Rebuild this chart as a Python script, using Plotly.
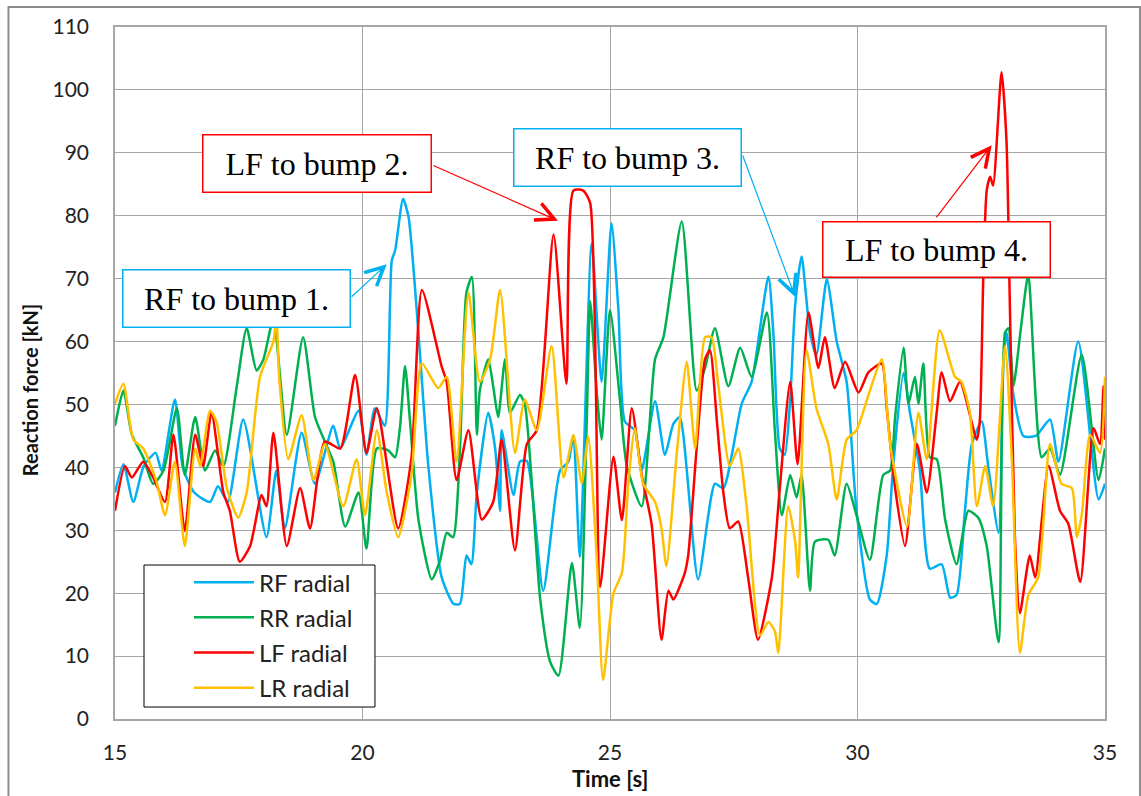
import plotly.graph_objects as go

# ---------------- data ----------------
rf_t = [15.0, 15.17, 15.37, 15.58, 15.82, 15.94, 16.21, 16.37, 16.6, 16.92, 17.08, 17.28, 17.59, 18.06, 18.26,
        18.43, 18.77, 19.04, 19.41, 19.55, 19.92, 20.08, 20.25, 20.45, 20.59, 20.66, 20.82, 20.93, 21.13, 21.33,
        21.6, 21.84, 21.97, 22.1, 22.2, 22.31, 22.54, 22.68, 22.78, 22.81, 23.05, 23.18, 23.32, 23.65, 23.99,
        24.16, 24.26, 24.39, 24.63, 24.83, 25.03, 25.17, 25.3, 25.5, 25.64, 25.91, 26.11, 26.28, 26.41, 26.78,
        27.12, 27.29, 27.66, 27.86, 28.2, 28.3, 28.43, 28.53, 28.64, 28.74, 28.87, 29.04, 29.17, 29.38, 29.58,
        29.78, 29.98, 30.25, 30.39, 30.59, 30.72, 30.93, 31.06, 31.26, 31.46, 31.7, 31.87, 32.0, 32.17, 32.31,
        32.51, 32.64, 32.85, 32.95, 33.01, 33.15, 33.35, 33.6, 33.89, 34.06, 34.46, 34.87, 35.0]
rf_v = [36, 40.5, 34.5, 40.2, 42.3, 39.5, 50.8, 40, 36, 34.5, 37, 34.5, 47.6, 28.9, 39.5,
        30.3, 45.5, 37.4, 46.6, 43, 49, 42, 49.4, 46.6, 72.8, 74.5, 82.7, 79.8, 61.4, 40.2,
        22.5, 18.3, 18.3, 26, 24.6, 36, 48.7, 43, 33.1, 45.9, 35.6, 40.9, 41, 20.4, 39.5,
        40.9, 45.1, 25.8, 75.6, 53.6, 78.8, 65, 47.3, 45.9, 39.5, 50.5, 42, 46.9, 48, 22.2,
        37.4, 36.7, 50.1, 53.6, 70.3, 61.4, 43, 42, 50.8, 65.7, 73.5, 61.4, 57.9, 69.9, 60,
        53.6, 33.1, 19, 18.3, 26, 40.2, 55, 48.7, 39.5, 23.9, 24.6, 19.3, 19.7, 33.1, 43.7,
        47.3, 40.2, 29.6, 57.2, 61.4, 51.5, 45, 45, 47.6, 40.9, 60, 34.9, 37.4]

rr_t = [15.0, 15.17, 15.34, 15.57, 15.77, 15.98, 16.25, 16.41, 16.62, 16.82, 17.02, 17.19, 17.46, 17.66, 17.86,
        18.0, 18.2, 18.47, 18.8, 19.04, 19.24, 19.41, 19.65, 19.92, 20.08, 20.29, 20.52, 20.66, 20.76, 20.86,
        20.96, 21.13, 21.4, 21.57, 21.7, 21.83, 21.97, 22.1, 22.21, 22.31, 22.37, 22.54, 22.64, 22.74, 22.88,
        22.98, 23.18, 23.28, 23.59, 23.79, 23.96, 24.23, 24.39, 24.53, 24.6, 24.73, 24.83, 25.0, 25.2, 25.34,
        25.64, 25.91, 26.08, 26.45, 26.75, 26.92, 27.12, 27.39, 27.63, 27.86, 28.17, 28.33, 28.47, 28.64, 28.77,
        28.87, 29.04, 29.14, 29.41, 29.54, 29.78, 29.98, 30.25, 30.52, 30.66, 30.76, 30.93, 31.03, 31.16, 31.23,
        31.33, 31.46, 31.6, 31.77, 32.0, 32.24, 32.44, 32.61, 32.85, 32.98, 33.05, 33.15, 33.3, 33.45, 33.72,
        33.89, 34.09, 34.53, 34.87, 35.0]
rr_v = [46.6, 52.2, 45.2, 41.6, 37.4, 39.5, 49.4, 38.8, 48, 39.5, 42.7, 40.2, 52.9, 62.1, 55.4,
        57.2, 63.6, 45.2, 60.7, 48, 44.1, 40.9, 30.6, 36, 27.1, 43, 42.7, 41.6, 46.6, 56.1,
        47.3, 31.7, 22.2, 25.3, 29.6, 28.9, 43, 67.8, 70.3, 45.2, 52.2, 57.2, 52.9, 48, 57.2,
        48.7, 51.5, 50, 19, 9.1, 6.9, 24.8, 14.5, 47.3, 66.4, 52.2, 44.4, 65, 50.8, 40.2,
        33.8, 57.2, 60.7, 79.1, 52.2, 55.8, 62.1, 52.9, 59, 54.4, 64.6, 45.9, 32.4, 38.8, 35.2,
        38.8, 20.4, 28.2, 28.5, 26, 37.4, 32.4, 25.3, 38.8, 39.5, 48, 59, 50.1, 54.4, 50.1,
        56.5, 41.6, 41.3, 31.7, 24.6, 33.1, 32, 27.5, 12.2, 61.4, 62.1, 52.9, 62.1, 70.6, 41.6,
        43, 38.8, 57.9, 38, 43]

lf_t = [15.0, 15.2, 15.34, 15.57, 15.77, 16.01, 16.18, 16.41, 16.62, 16.78, 16.95, 17.19, 17.32, 17.52, 17.73,
        17.96, 18.06, 18.2, 18.47, 18.74, 18.94, 19.24, 19.55, 19.85, 20.08, 20.29, 20.72, 20.99, 21.2, 21.6,
        21.7, 21.9, 22.14, 22.41, 22.64, 22.81, 23.08, 23.32, 23.52, 23.86, 24.12, 24.26, 24.46, 24.6, 24.8,
        25.07, 25.24, 25.44, 25.64, 25.84, 26.04, 26.18, 26.28, 26.51, 26.58, 26.75, 26.92, 27.02, 27.16, 27.29,
        27.42, 27.59, 27.79, 27.99, 28.27, 28.43, 28.64, 28.79, 29.01, 29.21, 29.34, 29.54, 29.75, 30.02, 30.22,
        30.49, 30.59, 30.76, 30.96, 31.2, 31.4, 31.6, 31.7, 31.87, 32.07, 32.41, 32.47, 32.54, 32.61, 32.68,
        32.74, 32.91, 33.01, 33.08, 33.18, 33.28, 33.48, 33.59, 33.86, 34.09, 34.26, 34.5, 34.77, 34.9, 34.97,
        35.0]
lf_v = [33.1, 40.2, 38.4, 40.9, 38.4, 34.5, 45.2, 29.9, 45.2, 40.2, 48.7, 36, 33.1, 25, 27.5,
        35.6, 33.8, 45.5, 27.5, 36.7, 30.3, 44.1, 43, 54.7, 42.3, 49.4, 30.3, 41.6, 68.2, 56,
        53.6, 38, 45.9, 31.7, 34.5, 44.4, 26.8, 43.7, 45.9, 77, 53.3, 84, 84, 82, 21,
        41.7, 31.6, 49.4, 38.8, 31, 12.6, 20.4, 19, 23.2, 26, 43, 57.2, 58.6, 47.3, 36,
        30.3, 31.4, 22.5, 12.6, 22.5, 36.7, 53.6, 40.5, 64.6, 55.8, 60.7, 52.6, 56.8, 51.9, 55.1,
        56.5, 49.4, 36.7, 27.5, 43.7, 36, 48.7, 55.1, 50.5, 53.6, 44.4, 47.3, 69.9, 84, 86.2,
        84.8, 102.8, 91.9, 65, 28.9, 16.8, 26, 22.5, 40.2, 33.1, 31, 21.8, 46.2, 43.7, 52.9,
        44.4]

lr_t = [15.0, 15.17, 15.37, 15.57, 15.84, 16.01, 16.21, 16.41, 16.62, 16.72, 16.92, 17.05, 17.26, 17.49, 17.66,
        17.93, 18.2, 18.26, 18.32, 18.5, 18.77, 19.01, 19.24, 19.61, 19.88, 20.05, 20.29, 20.49, 20.72, 20.99,
        21.2, 21.53, 21.7, 21.9, 22.14, 22.37, 22.58, 22.78, 23.08, 23.28, 23.52, 23.82, 24.06, 24.26, 24.43,
        24.56, 24.73, 24.86, 25.07, 25.24, 25.37, 25.5, 25.67, 25.91, 26.04, 26.14, 26.35, 26.55, 26.72, 26.92,
        27.05, 27.19, 27.42, 27.59, 27.76, 28.03, 28.2, 28.33, 28.4, 28.6, 28.74, 28.8, 28.97, 29.17, 29.41,
        29.58, 29.78, 29.98, 30.25, 30.49, 30.66, 31.0, 31.23, 31.4, 31.66, 31.97, 32.1, 32.27, 32.41, 32.58,
        32.74, 32.98, 33.12, 33.28, 33.45, 33.65, 33.89, 34.12, 34.33, 34.43, 34.53, 34.7, 34.9, 35.0]
lr_v = [50.1, 53.3, 44.4, 43, 37.7, 32.4, 40.9, 27.5, 43, 40.2, 49, 47.3, 36.7, 32, 36,
        54.4, 60, 64, 54, 41.3, 48.3, 38, 43.7, 33.8, 41.3, 32.4, 45.9, 36, 28.9, 38.8,
        56.5, 52.6, 54.4, 40.9, 67.8, 53.6, 57.2, 68.2, 42.3, 50.8, 45.9, 59.3, 38.4, 45.1, 37.5,
        44.9, 26, 6.2, 20, 23.2, 37.4, 46.2, 37.4, 34.5, 30.3, 24.3, 42.3, 56.8, 43, 60.7,
        60.7, 52.9, 40.2, 43, 33.8, 13.3, 15.4, 14, 10.5, 33.8, 28.2, 22.5, 58.6, 49.4, 43.7,
        34.9, 44.4, 45.9, 52.2, 57.2, 43.7, 30.6, 48.7, 41.3, 61.8, 54.4, 53.6, 48.7, 33.8, 40.2,
        33.8, 59.3, 40.9, 10.5, 19.7, 22.5, 43.7, 37.4, 36.7, 28.9, 32.4, 45.2, 42.3, 54.4]

series_names = ["RF radial", "RR radial", "LF radial", "LR radial"]
series_colors = ["#00B0F0", "#00B050", "#FF0000", "#FFC000"]
series_t = [rf_t, rr_t, lf_t, lr_t]
series_v = [rf_v, rr_v, lf_v, lr_v]

x_ticks = [15, 20, 25, 30, 35]
y_ticks = list(range(0, 111, 10))

# annotation boxes: (text, colour, centre t, centre v, width, height)
boxes = [
    ("RF to bump 1.", "#00B0F0", 17.45, 66.8, 226, 56),
    ("LF to bump 2.", "#FF0000", 19.09, 88.3, 227, 56),
    ("RF to bump 3.", "#00B0F0", 25.36, 89.2, 226, 56),
    ("LF to bump 4.", "#FF0000", 31.60, 74.6, 226, 54),
]
# arrows: (colour, tail t, tail v, head t, head v)
arrows = [
    ("#00B0F0", 19.75, 66.9, 20.49, 72.3),
    ("#FF0000", 21.40, 88.1, 23.95, 79.2),
    ("#00B0F0", 27.67, 89.8, 28.74, 67.1),
    ("#FF0000", 31.57, 79.5, 32.71, 91.2),
]

# ---------------- figure ----------------
fig = go.Figure()
for name, col, tt, vv in zip(series_names, series_colors, series_t, series_v):
    fig.add_trace(go.Scatter(x=tt, y=vv, mode="lines", name=name, legendgroup=name,
                             line=dict(color=col, width=2.5, shape="spline", smoothing=0.6)))

tick_font = dict(family="Lato, Liberation Sans, sans-serif", size=21, color="#222222")
grid = "#a6a6a6"

fig.update_layout(
    width=1141, height=796,
    margin=dict(l=115, r=36, t=27, b=77),
    paper_bgcolor="white", plot_bgcolor="white",
    showlegend=True,
    legend=dict(x=0.0747, y=0.2297, xanchor="left", yanchor="top",
                borderwidth=0, bgcolor="rgba(0,0,0,0)",
                font=dict(family="Lato, Liberation Sans, sans-serif", size=24, color="#222222"),
                tracegroupgap=1, itemwidth=60),
    xaxis=dict(range=[15, 35], tickvals=x_ticks, ticktext=[str(v) for v in x_ticks],
               showgrid=True, gridcolor=grid, gridwidth=1, zeroline=False,
               showline=True, linecolor=grid, linewidth=1.5, mirror=True,
               ticks="", ticklabelstandoff=14, tickfont=tick_font),
    yaxis=dict(range=[0, 110], tickvals=y_ticks, ticktext=[str(v) for v in y_ticks],
               showgrid=True, gridcolor=grid, gridwidth=1, zeroline=False,
               showline=True, linecolor=grid, linewidth=1.5, mirror=True,
               ticks="", ticklabelstandoff=20, tickfont=tick_font),
)

# legend frame (white box with black border behind the legend entries)
fig.add_shape(type="rect", xref="paper", yref="paper", x0=0.0293, x1=0.2626, y0=0.0173, y1=0.2225,
              line=dict(color="#000000", width=1), fillcolor="white", layer="above")

# axis titles
fig.add_annotation(text="<b>Time [s]</b>", xref="paper", yref="paper", x=0.5, y=-0.0867,
                   showarrow=False, font=dict(family="Lato, Liberation Sans, sans-serif", size=22, color="#111111"),
                   xanchor="center", yanchor="middle")
fig.add_annotation(text="<b>Reaction force [kN]</b>", xref="paper", yref="paper", x=-0.086, y=0.475,
                   showarrow=False, font=dict(family="Lato, Liberation Sans, sans-serif", size=20, color="#111111"),
                   textangle=-90, xanchor="center", yanchor="middle")

# arrows
for col, ta, va, th, vh in arrows:
    fig.add_annotation(x=th, y=vh, ax=ta, ay=va, xref="x", yref="y", axref="x", ayref="y",
                       text="", showarrow=True, arrowhead=5, arrowsize=3, arrowwidth=1.2,
                       arrowcolor=col, standoff=0, startstandoff=0)

# boxes
for txt, col, tc, vc, w, h in boxes:
    fig.add_annotation(x=tc, y=vc, xref="x", yref="y", text=txt, showarrow=False,
                       width=w, height=h, borderpad=0, borderwidth=1.5, bordercolor=col,
                       bgcolor="white", align="center", valign="middle",
                       font=dict(family="Liberation Serif, Times New Roman, serif", size=32, color="#000000"))

# outer chart border
fig.add_shape(type="rect", xref="paper", yref="paper", x0=-0.1076, x1=1.0354, y0=-0.13, y1=1.0289,
              line=dict(color="#8c8c8c", width=2), fillcolor="rgba(0,0,0,0)", layer="below")

fig.write_html("out.html")
